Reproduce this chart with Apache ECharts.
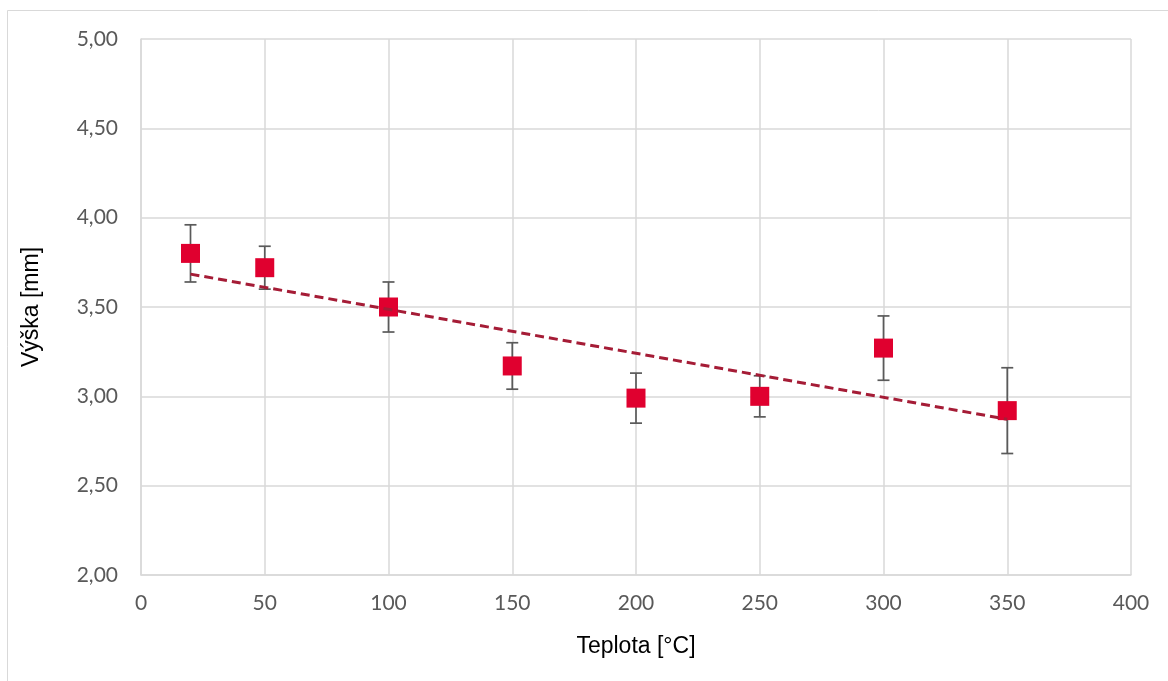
<!DOCTYPE html>
<html>
<head>
<meta charset="utf-8">
<script src="https://cdn.jsdelivr.net/npm/echarts@6/dist/echarts.min.js"></script>
<style>html,body{margin:0;padding:0;background:#fff}#c{width:1168px;height:681px}</style>
</head>
<body>
<div id="c"></div>
<script>
// Data
var temperatures = [20, 50, 100, 150, 200, 250, 300, 350];
var heights = [3.80, 3.72, 3.50, 3.17, 2.99, 3.00, 3.27, 2.92];
var errors = [0.16, 0.12, 0.14, 0.13, 0.14, 0.115, 0.18, 0.24];
var xTitle = 'Teplota [°C]';
var yTitle = 'Výška [mm]';

// Linear least-squares trendline (as Excel's linear trendline)
var n = temperatures.length, mx = 0, my = 0;
for (var i = 0; i < n; i++) { mx += temperatures[i]; my += heights[i]; }
mx /= n; my /= n;
var sxy = 0, sxx = 0;
for (var i = 0; i < n; i++) { sxy += (temperatures[i]-mx)*(heights[i]-my); sxx += (temperatures[i]-mx)*(temperatures[i]-mx); }
var slope = sxy / sxx, intercept = my - slope * mx;
var xMin = Math.min.apply(null, temperatures), xMax = Math.max.apply(null, temperatures);
var trend = [[xMin, intercept + slope*xMin], [xMax, intercept + slope*xMax]];

var points = temperatures.map(function(t, i){ return [t, heights[i]]; });
var errData = temperatures.map(function(t, i){ return [t, heights[i]-errors[i], heights[i]+errors[i]]; });

var chart = echarts.init(document.getElementById('c'), null, {renderer: 'canvas'});
var gridColor = '#d9d9d9';
chart.setOption({
  animation: false,
  backgroundColor: '#fff',
  graphic: [{
    type: 'rect', z: -10,
    shape: {x: 7.5, y: 10.5, width: 1175, height: 690},
    style: {fill: null, stroke: '#d9d9d9', lineWidth: 1}
  }],
  grid: {left: 141, top: 39, right: 37, bottom: 106, containLabel: false},
  xAxis: {
    type: 'value', min: 0, max: 400, interval: 50,
    name: xTitle, nameLocation: 'middle', nameGap: 60,
    nameTextStyle: {fontFamily: 'Liberation Sans', fontSize: 23, color: '#000'},
    axisLine: {show: true, lineStyle: {color: gridColor, width: 1.5}},
    axisTick: {show: false},
    axisLabel: {fontFamily: 'Lato', fontSize: 21, color: '#595959', margin: 18},
    splitLine: {show: true, lineStyle: {color: gridColor, width: 1.5}}
  },
  yAxis: {
    type: 'value', min: 2, max: 5, interval: 0.5,
    name: yTitle, nameLocation: 'middle', nameGap: 98, nameRotate: 90,
    nameTextStyle: {fontFamily: 'Liberation Sans', fontSize: 23, color: '#000'},
    axisLine: {show: true, lineStyle: {color: gridColor, width: 1.5}},
    axisTick: {show: false},
    axisLabel: {fontFamily: 'Lato', fontSize: 21, color: '#595959', margin: 23,
      formatter: function(v){ return v.toFixed(2).replace('.', ','); }},
    splitLine: {show: true, lineStyle: {color: gridColor, width: 1.5}}
  },
  series: [
    {
      type: 'custom', z: 1,
      data: errData,
      renderItem: function(params, api){
        var x = api.value(0);
        var lo = api.coord([x, api.value(1)]);
        var hi = api.coord([x, api.value(2)]);
        var hw = 6;
        var st = {stroke: '#5a5a5a', lineWidth: 1.7, fill: null};
        return {type: 'group', children: [
          {type: 'line', shape: {x1: lo[0], y1: lo[1], x2: hi[0], y2: hi[1]}, style: st},
          {type: 'line', shape: {x1: lo[0]-hw, y1: lo[1], x2: lo[0]+hw, y2: lo[1]}, style: st},
          {type: 'line', shape: {x1: hi[0]-hw, y1: hi[1], x2: hi[0]+hw, y2: hi[1]}, style: st}
        ]};
      }
    },
    {
      type: 'scatter', z: 2,
      data: points, symbol: 'rect', symbolSize: 19,
      itemStyle: {color: '#e0002f', opacity: 1}
    },
    {
      type: 'line', z: 3,
      data: trend, symbol: 'none',
      lineStyle: {color: '#a51c36', width: 3, type: [9, 5]}
    }
  ]
});
</script>
</body>
</html>
